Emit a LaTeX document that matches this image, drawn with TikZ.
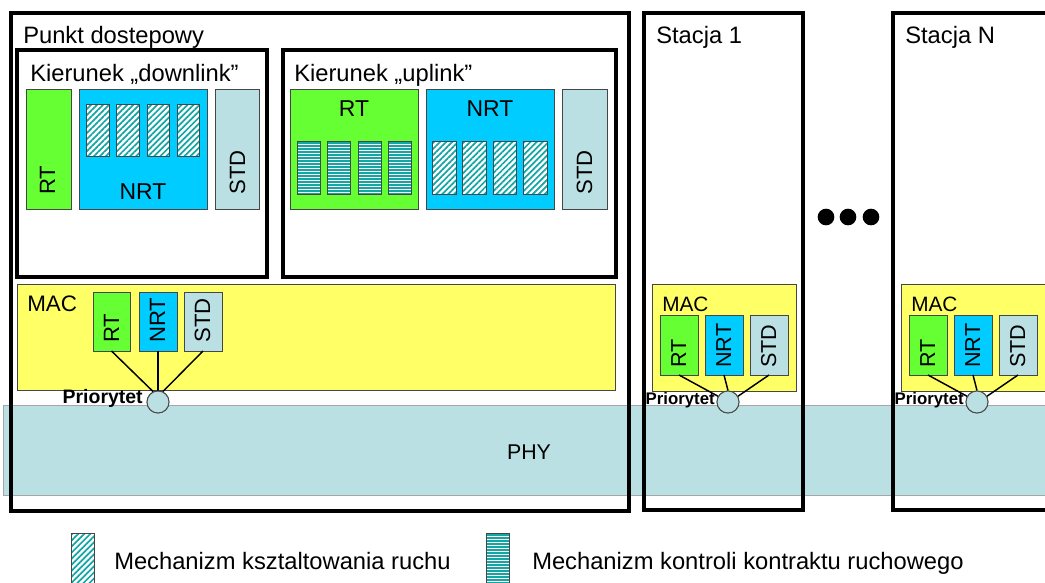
\documentclass[tikz,border=0pt]{standalone}
\usepackage{fontspec}
\setmainfont{Liberation Sans}
\usetikzlibrary{fit,patterns.meta}
\definecolor{rtgreen}{RGB}{102,255,51}
\definecolor{nrtblue}{RGB}{0,204,255}
\definecolor{stdgray}{RGB}{187,224,227}
\definecolor{macyellow}{RGB}{255,255,102}
\definecolor{hatchteal}{RGB}{20,165,165}
\definecolor{edgegray}{RGB}{70,70,70}
\tikzset{
  px/.style={inner sep=0pt, outer sep=0pt},
  bigbox/.style={draw=black, line width=2.3pt, px},
  layerbox/.style={draw=edgegray, line width=0.7pt, px},
  rtbox/.style={layerbox, fill=rtgreen},
  nrtbox/.style={layerbox, fill=nrtblue},
  stdbox/.style={layerbox, fill=stdgray},
  macbox/.style={layerbox, fill=macyellow},
  shaper/.style={draw=edgegray, line width=0.6pt, px, preaction={fill=white},
    pattern={Lines[angle=45,distance=3.2pt,line width=1.3pt]}, pattern color=hatchteal},
  policer/.style={draw=edgegray, line width=0.6pt, px, fill=white,
    path picture={
      \foreach \k in {0,...,24}
        \draw[hatchteal, line width=1.2pt]
          ([yshift=-\k*2.25pt-1.7pt]path picture bounding box.north west) -- ++(40,0);
    }},
  title/.style={inner sep=0pt, anchor=base west, font=\fontsize{17.8}{20}\selectfont},
  lbl/.style={inner sep=0pt, anchor=base, font=\fontsize{17.2}{20}\selectfont},
  vlbl/.style={inner sep=0pt, rotate=90, anchor=base west, font=\fontsize{16.6}{20}\selectfont},
  svlbl/.style={inner sep=0pt, rotate=90, anchor=base west, font=\fontsize{16.2}{20}\selectfont},
  maclbl/.style={inner sep=0pt, anchor=base west, font=\fontsize{#1}{20}\selectfont},
  prio/.style={circle, draw=edgegray, line width=0.7pt, fill=stdgray, minimum size=16.5pt, inner sep=0pt},
  priolbl/.style={inner sep=0pt, anchor=base east, font=\bfseries\fontsize{#1}{16}\selectfont},
  link/.style={line width=1.1pt, draw=black},
  dot/.style={circle, fill=black, minimum size=12.5pt, inner sep=0pt},
}
\begin{document}
\begin{tikzpicture}[x=0.75pt,y=-0.75pt]
\useasboundingbox (0,0) rectangle (1045,582);
\clip (0,0) rectangle (1045,582);

% physical layer band across all devices
\node[fit={(3,405) (1060,495)}, px, draw=gray!70, line width=0.6pt, fill=stdgray] (phy) {};
\node[lbl, font=\fontsize{16}{20}\selectfont] at (529,459) {PHY};

% ---------------- access point ----------------
\node[fit={(11,13) (629,511)}, bigbox] (ap) {};
\node[title] at (23,43) {Punkt dostepowy};

% downlink direction
\node[fit={(17,50) (267,277)}, bigbox] (dl) {};
\node[title] at (30,81) {Kierunek „downlink”};
\node[fit={(26,89) (71,209)}, rtbox] (dlrt) {};
\node[fit={(79,89) (207,209)}, nrtbox] (dlnrt) {};
\node[fit={(215,89) (259,209)}, stdbox] (dlstd) {};
\node[fit={(86,104) (109,156)}, shaper] (dls1) {};
\node[fit={(116,104) (139,156)}, shaper] (dls2) {};
\node[fit={(147,104) (169,156)}, shaper] (dls3) {};
\node[fit={(177,104) (199,156)}, shaper] (dls4) {};
\node[vlbl] at (55,195) {RT};
\node[lbl] at (143,199) {NRT};
\node[vlbl] at (245,195) {STD};

% uplink direction
\node[fit={(283,50) (616,277)}, bigbox] (ul) {};
\node[title] at (294,81) {Kierunek „uplink”};
\node[fit={(290,89) (418,209)}, rtbox] (ulrt) {};
\node[fit={(426,89) (554,209)}, nrtbox] (ulnrt) {};
\node[fit={(562,89) (607,209)}, stdbox] (ulstd) {};
\node[fit={(297,141) (320,194)}, policer] (ulp1) {};
\node[fit={(327,141) (350,194)}, policer] (ulp2) {};
\node[fit={(358,141) (381,194)}, policer] (ulp3) {};
\node[fit={(388,141) (411,194)}, policer] (ulp4) {};
\node[fit={(432,141) (456,194)}, shaper] (uls1) {};
\node[fit={(462,141) (486,194)}, shaper] (uls2) {};
\node[fit={(493,141) (516,194)}, shaper] (uls3) {};
\node[fit={(523,141) (547,194)}, shaper] (uls4) {};
\node[lbl] at (354,116) {RT};
\node[lbl] at (490,116) {NRT};
\node[vlbl] at (592,195) {STD};

% MAC layer of the access point
\node[fit={(17,284) (615,390)}, macbox] (apmac) {};
\node[maclbl=16.8] at (27,311) {MAC};
\node[fit={(93,292) (130,351)}, rtbox] (aprt) {};
\node[fit={(139,292) (177,351)}, nrtbox] (apnrt) {};
\node[fit={(184,292) (222,351)}, stdbox] (apstd) {};
\node[vlbl] at (119,343) {RT};
\node[vlbl] at (165,343) {NRT};
\node[vlbl] at (210,343) {STD};
\node[prio] (approut) at (158,402) {};
\draw[link] (aprt.south) -- (approut.115);
\draw[link] (apnrt.south) -- (approut.north);
\draw[link] (apstd.south) -- (approut.65);
\node[prio] at (approut) {};
\node[priolbl=14.6] at (143,403) {Priorytet};

% ---------------- stations ----------------
\foreach \dx/\nm/\tx in {0/s1/Stacja 1, 249/sn/Stacja N}{
  \begin{scope}[xshift=\dx*0.75pt]
    \node[fit={(644,13) (803,510)}, bigbox] (\nm box) {};
    \node[title] at (656,43) {\tx};
    \node[fit={(652,284) (796,391)}, macbox] (\nm mac) {};
    \node[maclbl=15.6] at (662,311) {MAC};
    \node[fit={(660,315) (698,375)}, rtbox] (\nm rt) {};
    \node[fit={(705,315) (743,375)}, nrtbox] (\nm nrt) {};
    \node[fit={(750,315) (788,375)}, stdbox] (\nm std) {};
    \node[svlbl] at (686,368) {RT};
    \node[svlbl] at (731,368) {NRT};
    \node[svlbl] at (776,368) {STD};
    \node[prio] (\nm prio) at (728,402) {};
    \draw[link] (\nm rt.south) -- (\nm prio.150);
    \draw[link] (\nm nrt.south) -- (\nm prio.north);
    \draw[link] (\nm std.south) -- (\nm prio.30);
    \node[prio] at (\nm prio) {};
    \node[priolbl=12.6] at (715,404) {Priorytet};
  \end{scope}
}

% ellipsis between stations
\node[dot] (d1) at (826,217) {};
\node[dot] (d2) at (848,217) {};
\node[dot] (d3) at (871,217) {};

% ---------------- legend ----------------
\node[fit={(71,533) (94,595)}, shaper] (legs) {};
\node[title] at (114,569) {Mechanizm ksztaltowania ruchu};
\node[fit={(486,533) (509,595)}, policer] (legp) {};
\node[title] at (532,569) {Mechanizm kontroli kontraktu ruchowego};
\end{tikzpicture}
\end{document}
